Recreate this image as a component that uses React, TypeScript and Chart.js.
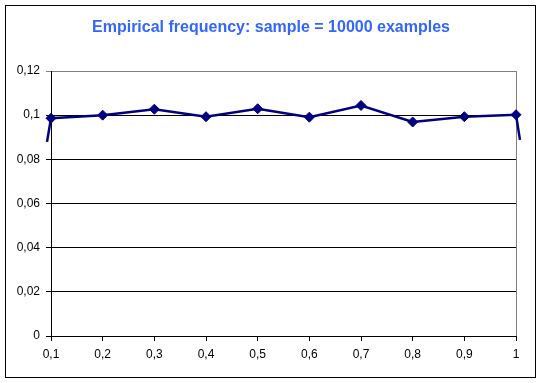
import React, { useEffect, useRef } from "react";
import { Chart, registerables } from "chart.js";
Chart.register(...registerables);

const xValues = [0.1, 0.2, 0.3, 0.4, 0.5, 0.6, 0.7, 0.8, 0.9, 1.0];
const frequencies = [0.0986, 0.1, 0.1027, 0.0993, 0.1029, 0.0991, 0.1044, 0.0969, 0.0993, 0.1002];
// Excel's smoothing artefacts at both ends of the line
const leftTail = { x: 0.0923, y: 0.0879 };
const rightTail = { x: 1.0077, y: 0.0888 };
const xTicks = [0.1, 0.2, 0.3, 0.4, 0.5, 0.6, 0.7, 0.8, 0.9, 1.0];
const yTicks = [0, 0.02, 0.04, 0.06, 0.08, 0.1, 0.12];
const titleText = "Empirical frequency: sample = 10000 examples";

const fmt = (v: number) => {
  const s = String(parseFloat(v.toFixed(4)));
  return s.replace(".", ",");
};

const FONT = "'Liberation Sans', Arial, sans-serif";

export default function App() {
  const ref = useRef<HTMLCanvasElement>(null);
  useEffect(() => {
    document.body.style.margin = "0";
    const pts = [leftTail, ...xValues.map((x, i) => ({ x, y: frequencies[i] })), rightTail];
    const n = pts.length;
    const radii = pts.map((_, i) => (i === 0 || i === n - 1 ? 0 : 5));
    const framePlugin = {
      id: "frame",
      beforeDraw(chart: any) {
        const c = chart.ctx;
        c.save();
        c.fillStyle = "#fff";
        c.fillRect(0, 0, chart.width, chart.height);
        c.restore();
      },
      afterDraw(chart: any) {
        const c = chart.ctx;
        c.save();
        c.strokeStyle = "#000";
        c.lineWidth = 1;
        c.strokeRect(5.5, 5.5, 530, 372);
        c.fillStyle = "#3366FF";
        c.font = "bold 16px " + FONT;
        c.textAlign = "center";
        c.textBaseline = "middle";
        c.fillText(titleText, 271, 28);
        c.restore();
      },
      beforeDatasetsDraw(chart: any) {
        const c = chart.ctx;
        const a = chart.chartArea;
        c.save();
        c.strokeStyle = "#808080";
        c.lineWidth = 1;
        c.beginPath();
        c.moveTo(Math.round(a.right) + 0.5, a.top);
        c.lineTo(Math.round(a.right) + 0.5, a.bottom);
        c.stroke();
        c.restore();
      },
    };
    const chart = new Chart(ref.current!, {
      type: "line",
      data: {
        datasets: [
          {
            data: pts,
            borderColor: "#000080",
            backgroundColor: "#000080",
            borderWidth: 2.5,
            pointStyle: "rectRot",
            pointRadius: radii,
            pointHoverRadius: radii,
            pointBorderWidth: 1,
            tension: 0,
            clip: false as any,
          },
        ],
      },
      options: {
        responsive: false,
        animation: false,
        layout: { padding: { top: 71, right: 26, left: 0, bottom: 0 } },
        plugins: { legend: { display: false }, tooltip: { enabled: false } },
        scales: {
          x: {
            type: "linear",
            afterDataLimits: (s: any) => {
              s.min = xTicks[0];
              s.max = xTicks[xTicks.length - 1];
            },
            afterBuildTicks: (s: any) => {
              s.ticks = xTicks.map((v) => ({ value: v }));
            },
            afterFit: (s: any) => {
              s.height = 47;
            },
            ticks: {
              callback: (v: any) => fmt(Number(v)),
              color: "#000",
              font: { family: FONT, size: 12 },
              padding: 6,
              maxRotation: 0,
              autoSkip: false,
            },
            grid: {
              drawOnChartArea: false,
              drawTicks: true,
              tickLength: 5,
              color: "#000",
            },
            border: { color: "#000", width: 1 },
          },
          y: {
            min: 0,
            max: 0.12,
            afterBuildTicks: (s: any) => {
              s.ticks = yTicks.map((v) => ({ value: v }));
            },
            afterFit: (s: any) => {
              s.width = 51;
            },
            ticks: {
              callback: (v: any) => fmt(Number(v)),
              color: "#000",
              font: { family: FONT, size: 12 },
              padding: 6,
            },
            grid: {
              tickLength: 5,
              color: (ctx: any) => (ctx.tick && ctx.tick.value >= 0.119 ? "#808080" : "#000"),
              lineWidth: 1,
            },
            border: { color: "#000", width: 1 },
          },
        },
      },
      plugins: [framePlugin],
    });
    return () => chart.destroy();
  }, []);
  return (
    <div style={{ width: 542, height: 383 }}>
      <canvas ref={ref} width={542} height={383} />
    </div>
  );
}
